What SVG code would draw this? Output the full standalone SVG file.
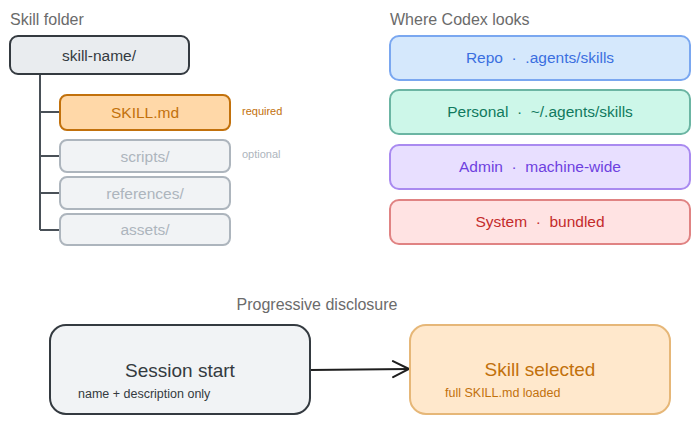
<svg xmlns="http://www.w3.org/2000/svg" width="700" height="425" viewBox="0 0 700 425">
<style>
text{font-family:"Liberation Sans","DejaVu Sans",sans-serif}
.title{font-size:16px;fill:#6b6b6b}
.lbl{font-size:15.5px;text-anchor:middle;dominant-baseline:central}
.tree{stroke:#495057;stroke-width:2;fill:none}
.opt rect{fill:#f1f3f5;stroke:#adb5bd;stroke-width:2}
.opt text{fill:#adb5bd}
.loc rect{stroke-width:2}
</style>
<defs>
<marker id="arr" viewBox="0 0 20 20" refX="18" refY="10" markerWidth="20" markerHeight="20" markerUnits="userSpaceOnUse" orient="auto">
<path d="M2 2 L18 10 L2 18" fill="none" stroke="#1e1e1e" stroke-width="2" stroke-linecap="round"/>
</marker>
</defs>

<text class="title" x="10" y="25">Skill folder</text>
<text class="title" x="390" y="25">Where Codex looks</text>
<text class="title" x="317" y="310" text-anchor="middle">Progressive disclosure</text>

<g id="connectors">
<path class="tree" d="M40 74 V230 M40 112 H60 M40 156 H60 M40 193 H60 M40 230 H60"/>
<path d="M310 370 L409 369" stroke="#1e1e1e" stroke-width="2" fill="none" marker-end="url(#arr)"/>
</g>

<g id="skill-name">
<rect x="10" y="36" width="179" height="38" rx="8" fill="#e9ecef" stroke="#343a40" stroke-width="2"/>
<text class="lbl" x="99" y="55" fill="#343a40" font-size="17">skill-name/</text>
</g>
<g id="skill-md">
<rect x="60" y="95" width="170" height="35" rx="7" fill="#ffd8a8" stroke="#c2710c" stroke-width="2"/>
<text class="lbl" x="145" y="112.5" fill="#c2710c">SKILL.md</text>
</g>
<text x="242" y="115" font-size="11" fill="#c2710c">required</text>
<g id="scripts" class="opt">
<rect x="60" y="140" width="170" height="32" rx="7"/>
<text class="lbl" x="145" y="156">scripts/</text>
</g>
<text x="242" y="158" font-size="11" fill="#adb5bd">optional</text>
<g id="references" class="opt">
<rect x="60" y="177" width="170" height="32" rx="7"/>
<text class="lbl" x="145" y="193">references/</text>
</g>
<g id="assets" class="opt">
<rect x="60" y="214" width="170" height="31" rx="7"/>
<text class="lbl" x="145" y="229.5">assets/</text>
</g>

<g id="repo" class="loc">
<rect x="390" y="36" width="300" height="44" rx="9" fill="#d5e8fc" stroke="#7aa7f0"/>
<text class="lbl" x="540" y="57" fill="#3b6fe0">Repo&#160;&#160;·&#160;&#160;.agents/skills</text>
</g>
<g id="personal" class="loc">
<rect x="390" y="90" width="300" height="44" rx="9" fill="#cdf7e9" stroke="#6bb5a3"/>
<text class="lbl" x="540" y="111" fill="#117a5e">Personal&#160;&#160;·&#160;&#160;~/.agents/skills</text>
</g>
<g id="admin" class="loc">
<rect x="390" y="145" width="300" height="44" rx="9" fill="#e8dfff" stroke="#a98af0"/>
<text class="lbl" x="540" y="166" fill="#6e3fe0">Admin&#160;&#160;·&#160;&#160;machine-wide</text>
</g>
<g id="system" class="loc">
<rect x="390" y="200" width="300" height="44" rx="9" fill="#ffe3e3" stroke="#e08383"/>
<text class="lbl" x="540" y="221" fill="#c42b2b">System&#160;&#160;·&#160;&#160;bundled</text>
</g>

<g id="session-start">
<rect x="50" y="325" width="260" height="89" rx="16" fill="#f1f3f5" stroke="#343a40" stroke-width="2"/>
<text x="180" y="370" font-size="19" text-anchor="middle" dominant-baseline="central" fill="#343a40">Session start</text>
<text x="78" y="398" font-size="12.5" fill="#343a40">name + description only</text>
</g>
<g id="skill-selected">
<rect x="410" y="325" width="260" height="89" rx="16" fill="#ffe8cc" stroke="#e6b778" stroke-width="2"/>
<text x="540" y="369" font-size="19" text-anchor="middle" dominant-baseline="central" fill="#c2710c">Skill selected</text>
<text x="445" y="397" font-size="12.5" fill="#c2710c">full SKILL.md loaded</text>
</g>
</svg>
